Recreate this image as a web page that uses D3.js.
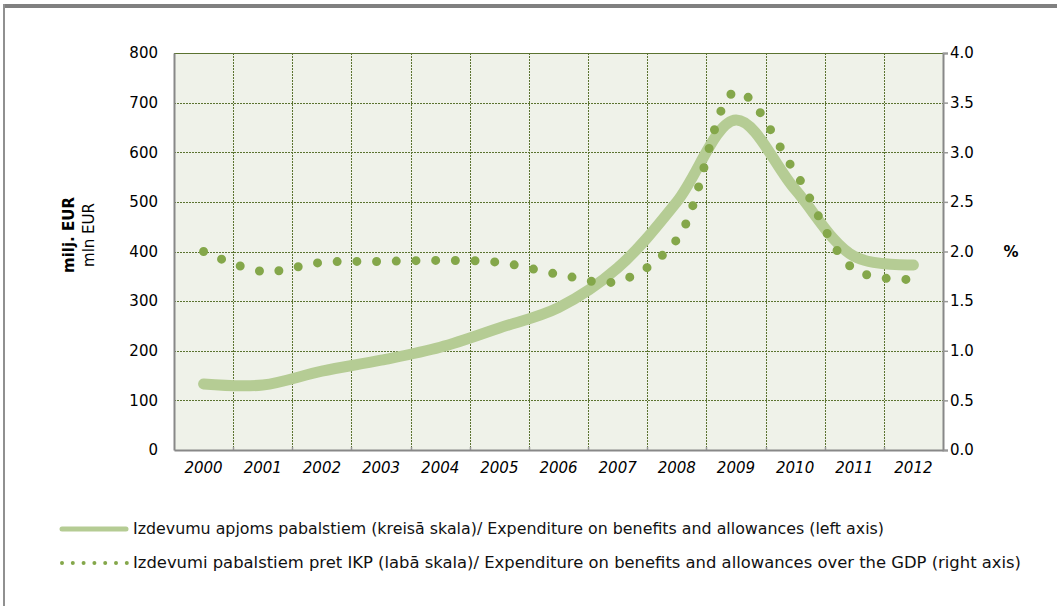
<!DOCTYPE html>
<head><style>
body { margin: 0; background: #fff; }
svg { display: block; font-family: "DejaVu Sans", Verdana, sans-serif; }
</style></head>
<body>
    <div class="container"></div>
    <script src="https://d3js.org/d3.v7.min.js"></script>
    <script>
        // data
        var years = ['2000', '2001', '2002', '2003', '2004', '2005', '2006',
                     '2007', '2008', '2009', '2010', '2011', '2012'];
        var expenditure = [133, 131, 159, 181, 207, 246, 287, 367, 500, 665, 525, 390, 373];
        var shareGdp = [2.0, 1.8, 1.89, 1.9, 1.91, 1.89, 1.77, 1.7, 2.12, 3.61, 2.8, 1.82, 1.72];
        var leftTicks = [0, 100, 200, 300, 400, 500, 600, 700, 800];
        var rightTicks = [0, 0.5, 1, 1.5, 2, 2.5, 3, 3.5, 4];
        var legendLabels = [
            'Izdevumu apjoms pabalstiem (kreisā skala)/ Expenditure on benefits and allowances (left axis)',
            'Izdevumi pabalstiem pret IKP (labā skala)/ Expenditure on benefits and allowances over the GDP (right axis)'
        ];
        var legendWidths = [751, 888];

        var W = 1057, H = 606;
        var pL = 174, pR = 943, pT = 53, pB = 450;
        var lineColor = '#b5cc94', dotColor = '#84a74a', gridColor = '#5b7330';

        var svg = d3.select('.container')
                    .append('svg')
                    .attr('width', W)
                    .attr('height', H);

        // frame of the original page
        svg.append('rect').attr('x', 3).attr('y', 4).attr('width', W - 3).attr('height', 4).attr('fill', '#808080');
        svg.append('rect').attr('x', 3).attr('y', 4).attr('width', 2).attr('height', H - 4).attr('fill', '#909090');

        var x = d3.scaleBand().domain(years).range([pL, pR]).padding(0);
        var yL = d3.scaleLinear().domain([0, 800]).range([pB, pT]);
        var yR = d3.scaleLinear().domain([0, 4]).range([pB, pT]);

        svg.append('rect')
           .attr('x', pL).attr('y', pT)
           .attr('width', pR - pL).attr('height', pB - pT)
           .attr('fill', '#eff2e9');

        // gridlines
        var grid = svg.append('g').attr('stroke', gridColor).attr('stroke-width', 1)
                      .attr('stroke-dasharray', '2,1');
        grid.selectAll('.h').data(leftTicks.slice(1, -1)).enter().append('line')
            .attr('x1', pL).attr('x2', pR)
            .attr('y1', function(d) { return Math.round(yL(d)) + 0.5; })
            .attr('y2', function(d) { return Math.round(yL(d)) + 0.5; });
        grid.selectAll('.v').data(years.slice(1)).enter().append('line')
            .attr('y1', pT).attr('y2', pB)
            .attr('x1', function(d) { return Math.round(x(d)) + 0.5; })
            .attr('x2', function(d) { return Math.round(x(d)) + 0.5; });
        svg.append('line').attr('x1', pL).attr('x2', pR)
           .attr('y1', pT + 0.5).attr('y2', pT + 0.5)
           .attr('stroke', '#5b7330').attr('stroke-width', 1);

        // small ticks on the category axis
        svg.append('g').selectAll('line').data(years.slice(1)).enter().append('line')
           .attr('x1', function(d) { return Math.round(x(d)) + 0.5; })
           .attr('x2', function(d) { return Math.round(x(d)) + 0.5; })
           .attr('y1', pB - 3).attr('y2', pB)
           .attr('stroke', '#999').attr('stroke-width', 1.5);

        // axes
        var axL = svg.append('g')
                     .attr('transform', 'translate(' + pL + ',0)')
                     .call(d3.axisLeft(yL).tickValues(leftTicks).tickSize(0).tickPadding(16));
        axL.select('.domain').attr('stroke', '#888').attr('stroke-width', 2);

        var axR = svg.append('g')
                     .attr('transform', 'translate(' + pR + ',0)')
                     .call(d3.axisRight(yR).tickValues(rightTicks).tickSize(5).tickPadding(2)
                             .tickFormat(d3.format('.1f')));
        axR.select('.domain').attr('stroke', '#888').attr('stroke-width', 2);
        axR.selectAll('.tick line').attr('stroke', '#999').attr('stroke-width', 1.5);

        var axB = svg.append('g')
                     .attr('transform', 'translate(0,' + pB + ')')
                     .call(d3.axisBottom(x).tickSize(0).tickPadding(12));
        axB.select('.domain').attr('stroke', '#888').attr('stroke-width', 2);
        axB.selectAll('text').attr('font-style', 'italic');

        svg.selectAll('.tick text')
           .attr('font-size', 15)
           .attr('font-family', '"DejaVu Sans", Verdana, sans-serif')
           .attr('fill', '#000');

        // axis titles
        var lt = svg.append('text')
                    .attr('transform', 'translate(74,235) rotate(-90)')
                    .attr('text-anchor', 'middle')
                    .attr('font-size', 15);
        lt.append('tspan').attr('x', 0).attr('dy', 0).attr('font-weight', 'bold').text('milj. EUR');
        lt.append('tspan').attr('x', 0).attr('dy', 20).text('mln EUR');
        svg.append('text').attr('x', 1011).attr('y', 257).attr('text-anchor', 'middle')
           .attr('font-size', 15).attr('font-weight', 'bold').text('%');

        var cx = function(d, i) { return x(years[i]) + x.bandwidth() / 2; };

        var valLine = d3.line()
                        .x(function(d, i) { return cx(d, i); })
                        .y(function(d) { return yL(d); })
                        .curve(d3.curveCatmullRom.alpha(0.5));
        svg.append('path')
           .datum(expenditure)
           .attr('d', valLine)
           .attr('fill', 'none')
           .attr('stroke', lineColor)
           .attr('stroke-width', 11)
           .attr('stroke-linecap', 'round')
           .attr('stroke-linejoin', 'round');

        var pctLine = d3.line()
                        .x(function(d, i) { return cx(d, i); })
                        .y(function(d) { return yR(d); })
                        .curve(d3.curveCatmullRom.alpha(0.5));
        svg.append('path')
           .datum(shareGdp)
           .attr('d', pctLine)
           .attr('fill', 'none')
           .attr('stroke', dotColor)
           .attr('stroke-width', 9)
           .attr('stroke-linecap', 'round')
           .attr('stroke-dasharray', '0 19.7');

        // legend
        var lg = svg.append('g');
        lg.append('line').attr('x1', 62).attr('x2', 126).attr('y1', 529).attr('y2', 529)
          .attr('stroke', lineColor).attr('stroke-width', 5).attr('stroke-linecap', 'round');
        lg.append('line').attr('x1', 62).attr('x2', 127).attr('y1', 563).attr('y2', 563)
          .attr('stroke', dotColor).attr('stroke-width', 4).attr('stroke-linecap', 'round')
          .attr('stroke-dasharray', '0 10.8');
        lg.selectAll('text').data(legendLabels).enter().append('text')
          .attr('x', 133)
          .attr('y', function(d, i) { return 534 + i * 34; })
          .attr('font-size', 15)
          .attr('textLength', function(d, i) { return legendWidths[i]; })
          .attr('lengthAdjust', 'spacingAndGlyphs')
          .attr('fill', '#111')
          .text(function(d) { return d; });
    </script>
</body>
